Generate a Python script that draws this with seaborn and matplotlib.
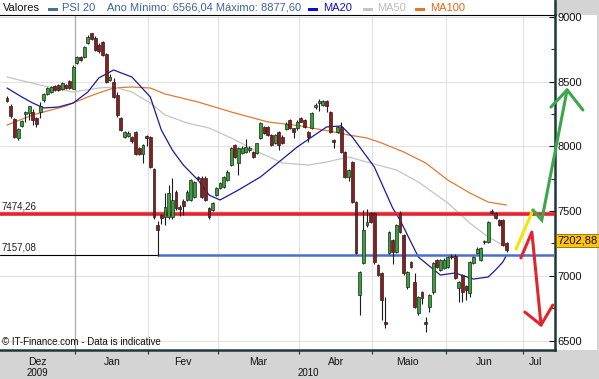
import matplotlib
matplotlib.use("Agg")
import matplotlib.pyplot as plt
from matplotlib.patches import Rectangle
from matplotlib.ticker import MultipleLocator, FixedLocator, NullFormatter, FixedFormatter
import seaborn as sns

# ---------------- data (PSI 20 daily candles, Dec 2009 - Jun 2010) ----------------
opens = [8376, 8312, 8212, 8065, 8160, 8250, 8258, 8266, 8220, 8266, 8359, 8405, 8420, 8467, 8475, 8444, 8475, 8506, 8444,
         8645, 8691, 8691, 8799, 8876, 8838, 8784, 8807, 8714, 8513, 8500, 8397, 8220, 8073, 8080, 8073, 8111, 7988, 7941, 8073,
         8073, 7825, 7393, 7470, 7454, 7454, 7454, 7648, 7531, 7578, 7586, 7586, 7610, 7756, 7756, 7756, 7524, 7508,
         7624, 7679, 7686, 7740, 7856, 8011, 7872, 7949, 7957, 7972, 7957, 7949, 8065, 8152, 8152, 8088, 8024, 8114, 8075,
         8132, 8204, 8140, 8140, 8217, 8204, 8114, 8140, 8305, 8338, 8320, 8353, 8268, 8050, 8114, 8152, 7959, 7766, 7880,
         7570, 6852, 7099, 7393, 7485, 7485, 7083, 7022, 6640, 7176, 7277, 7184, 7485, 7315, 6914, 7107, 6952, 6713, 6875,
         6640, 6759, 6875, 7122, 7045, 7060, 7068, 7150, 7153, 6906, 7006, 6921, 6867, 7099, 7176, 7122, 7258, 7261, 7500,
         7485, 7431, 7431, 7254]
highs = [8389, 8330, 8220, 8140, 8204, 8275, 8315, 8290, 8230, 8346, 8412, 8460, 8470, 8475, 8482, 8500, 8482, 8512, 8625,
         8700, 8700, 8775, 8860, 8878, 8850, 8795, 8815, 8720, 8560, 8530, 8420, 8230, 8120, 8115, 8080, 8120, 7995, 8020, 8085,
         8080, 7830, 7420, 7480, 7640, 7700, 7756, 7660, 7545, 7590, 7660, 7750, 7735, 7775, 7770, 7770, 7535, 7570,
         7690, 7725, 7770, 7815, 7995, 8020, 7995, 8000, 8060, 8000, 7965, 8030, 8190, 8160, 8160, 8095, 8095, 8120, 8085,
         8185, 8215, 8145, 8200, 8225, 8210, 8120, 8265, 8335, 8365, 8360, 8360, 8275, 8060, 8160, 8190, 7965, 7825, 7890,
         7580, 7040, 7510, 7520, 7495, 7495, 7090, 7030, 6840, 7345, 7285, 7400, 7500, 7325, 7035, 7115, 7020, 6845, 6880,
         6680, 6860, 7110, 7130, 7130, 7135, 7155, 7165, 7165, 6960, 7015, 6930, 7115, 7150, 7220, 7225, 7280, 7420, 7516,
         7495, 7440, 7440, 7260]
lows = [8343, 8220, 8065, 8050, 8150, 8190, 8204, 8165, 8150, 8220, 8345, 8400, 8410, 8430, 8425, 8435, 8445, 8440, 8440,
        8635, 8660, 8685, 8790, 8820, 8735, 8720, 8700, 8490, 8505, 8370, 8230, 8115, 8065, 8070, 8030, 7935, 7930, 7872, 8000,
        7830, 7440, 7157, 7400, 7393, 7440, 7440, 7510, 7460, 7470, 7575, 7575, 7600, 7740, 7600, 7575, 7440, 7500,
        7615, 7670, 7680, 7730, 7850, 7910, 7779, 7940, 7950, 7960, 7910, 7940, 8060, 8095, 8080, 8000, 8015, 7972, 8015,
        8125, 8135, 8065, 8130, 8185, 8145, 8036, 8135, 8290, 8275, 8315, 8265, 8105, 7990, 8105, 7950, 7755, 7730, 7560,
        7165, 6697, 7090, 7380, 7405, 7095, 6995, 6660, 6596, 7165, 7090, 7175, 7330, 7010, 6900, 7060, 6750, 6700, 6780,
        6566, 6720, 6860, 7060, 7040, 7050, 7060, 7130, 6975, 6800, 6800, 6810, 6840, 7090, 7170, 7115, 7245, 7255, 7475,
        7440, 7385, 7230, 7185]
closes = [8351, 8237, 8073, 8134, 8196, 8262, 8312, 8204, 8173, 8312, 8405, 8451, 8459, 8436, 8436, 8490, 8451, 8451, 8614,
          8691, 8668, 8768, 8845, 8830, 8745, 8737, 8706, 8498, 8537, 8380, 8243, 8127, 8111, 8104, 8042, 7941, 7941, 8011, 8065,
          7841, 7454, 7354, 7447, 7531, 7640, 7586, 7524, 7516, 7539, 7648, 7740, 7725, 7750, 7610, 7586, 7454, 7562,
          7679, 7717, 7764, 7802, 7990, 7918, 7988, 7988, 7996, 7990, 7918, 8026, 8181, 8101, 8088, 8011, 8088, 8011, 8024,
          8171, 8140, 8114, 8191, 8191, 8152, 8075, 8256, 8315, 8353, 8351, 8312, 8114, 8034, 8152, 7959, 7766, 7818, 7571,
          7176, 7029, 7354, 7416, 7416, 7107, 7006, 6813, 6630, 7339, 7184, 7393, 7338, 7022, 7029, 7068, 6759, 6836, 6829,
          6630, 6852, 7099, 7068, 7122, 7122, 7145, 7142, 6983, 6952, 6875, 6890, 7107, 7145, 7207, 7215, 7264, 7416, 7485,
          7447, 7393, 7238, 7203]

# moving averages (trading-day index, value)
ma20_idx = [0, 4, 7, 10, 14, 18, 22, 25, 29, 34, 39, 42, 45, 48, 52, 55, 58, 63, 69, 74, 79, 83, 87, 91, 94, 100,
            105, 107, 112, 118, 122, 127, 131, 133, 135, 136]
ma20_val = [8451, 8382, 8335, 8297, 8304, 8335, 8420, 8529, 8590, 8536, 8382, 8127, 7972, 7856, 7740, 7624, 7586,
            7663, 7764, 7879, 7995, 8073, 8150, 8158, 8073, 7841, 7524, 7431, 7145, 7006, 7022, 6975, 6991, 7045, 7107, 7161]
ma50_idx = [0, 9, 18, 25, 29, 34, 39, 43, 49, 55, 61, 69, 75, 82, 87, 93, 98, 106, 112, 120, 126, 131, 136]
ma50_val = [8536, 8474, 8420, 8451, 8459, 8420, 8335, 8243, 8181, 8142, 8065, 7949, 7872, 7856, 7879, 7918, 7879,
            7818, 7725, 7563, 7408, 7300, 7222]
ma100_idx = [0, 7, 16, 22, 25, 29, 34, 39, 43, 52, 61, 71, 80, 89, 93, 98, 102, 108, 114, 120, 126, 131, 136]
ma100_val = [8165, 8243, 8312, 8382, 8413, 8451, 8459, 8451, 8405, 8343, 8266, 8189, 8158, 8111, 8088, 8065, 8026,
             7957, 7872, 7740, 7640, 7570, 7547]

resistance = 7474.26
support = 7157.08
support_start = 41
last_close = 7202.88

# scenario arrows drawn on the chart (index, value)
yellow_x = [138.6, 143.2]
yellow_y = [7207, 7508]
green_x = [143.2, 145.6, 152.5]
green_y = [7508, 7431, 8436]
green_head_x = [148.1, 152.5, 156.8]
green_head_y = [8304, 8436, 8281]
red_x = [139.9, 142.9, 145.4]
red_y = [7138, 7338, 6620]
red_head_x = [141.0, 145.4, 148.6]
red_head_y = [6720, 6620, 6774]

month_bounds = [18.5, 38.5, 57.5, 79.5, 99.5, 119.5, 140.5]
month_label_pos = [8.3, 28.5, 48.0, 68.5, 89.5, 109.0, 130.0, 144.0]
month_labels = ["Dez", "Jan", "Fev", "Mar", "Abr", "Maio", "Jun", "Jul"]
year_labels = ["2009", "2010"]
year_label_pos = [8.3, 82.0]

# ---------------- style ----------------
sns.set_style("white")
plt.rcParams['font.family'] = ['Liberation Sans', 'DejaVu Sans']

W, H = 599, 379
fig = plt.figure(figsize=(W / 100, H / 100), dpi=100, facecolor='#d4d4d4')
ax = fig.add_axes([0, 1 - 350 / H, 555 / W, 335 / H])
ax.set_facecolor('white')

# white header + right label strip
fig.patches.append(Rectangle((0, 1 - 15 / H), 555 / W, 15 / H, transform=fig.transFigure,
                             facecolor='white', edgecolor='none', zorder=-5))
fig.patches.append(Rectangle((555 / W, 1 - 350 / H), 42 / W, 335 / H, transform=fig.transFigure,
                             facecolor='white', edgecolor='none', zorder=-5))

xmin, xmax = -1.92, 149.2
ymin, ymax = 6427, 9015
ax.set_xlim(xmin, xmax)
ax.set_ylim(ymin, ymax)

# grid
for v in range(6500, 9001, 500):
    ax.axhline(v, color='#e2e2e2', lw=0.8, zorder=0)
for i, b in enumerate(month_bounds):
    ax.axvline(b, color='#a9a9a9' if i == 0 else '#e2e2e2', lw=0.9 if i == 0 else 0.8, zorder=0)

# moving averages
sns.lineplot(x=ma100_idx, y=ma100_val, ax=ax, color='#e07a35', linewidth=0.9, estimator=None, sort=False, zorder=2)
sns.lineplot(x=ma50_idx, y=ma50_val, ax=ax, color='#c4c4c4', linewidth=0.9, estimator=None, sort=False, zorder=2)
sns.lineplot(x=ma20_idx, y=ma20_val, ax=ax, color='#1a1aa0', linewidth=0.9, estimator=None, sort=False, zorder=2)

# support / resistance
ax.axhline(resistance, color='#e5232d', lw=2.6, zorder=3)
ax.plot([xmin, support_start], [support, support], color='black', lw=0.8, zorder=3)
ax.plot([support_start, xmax], [support, support], color='#4a6fd0', lw=1.8, zorder=3)
ax.text(-1.6, resistance + 20, "7474,26", fontsize=7, va='bottom', ha='left', color='#202020', zorder=6)
ax.text(-1.6, support + 20, "7157,08", fontsize=7, va='bottom', ha='left', color='#202020', zorder=6)

# candles
idx = list(range(len(closes)))
ax.vlines(idx, lows, highs, color='#1a1a1a', lw=0.8, zorder=4)
bottoms = [min(o, c) for o, c in zip(opens, closes)]
heights = [max(abs(c - o), 12) for o, c in zip(opens, closes)]
colors = ['#33a532' if c >= o else '#8e1c1c' for o, c in zip(opens, closes)]
ax.bar(idx, heights, bottom=bottoms, width=0.78, color=colors, edgecolor='#222222', linewidth=0.5, zorder=5)

# scenario arrows
ax.plot(yellow_x, yellow_y, color='#f2e600', lw=2.2, clip_on=False, zorder=7, solid_capstyle='round')
ax.plot(green_x, green_y, color='#3aa84a', lw=2.2, clip_on=False, zorder=7, solid_joinstyle='miter')
ax.plot(green_head_x, green_head_y, color='#3aa84a', lw=2.2, clip_on=False, zorder=7)
ax.plot(red_x, red_y, color='#e0262a', lw=2.2, clip_on=False, zorder=7)
ax.plot(red_head_x, red_head_y, color='#e0262a', lw=2.2, clip_on=False, zorder=7)

# spines
ax.spines['left'].set_visible(False)
ax.spines['top'].set_color('black')
ax.spines['top'].set_linewidth(0.8)
ax.spines['right'].set_color('#1c3838')
ax.spines['right'].set_linewidth(1.8)
ax.spines['bottom'].set_color('#1c3838')
ax.spines['bottom'].set_linewidth(1.8)
fig.add_artist(plt.Line2D([555 / W, 555 / W], [1 - 15 / H, 1], transform=fig.transFigure,
                          color='#1c3838', lw=1.8))

# y axis on right
ax.yaxis.tick_right()
ax.yaxis.set_major_locator(FixedLocator(list(range(6500, 9001, 500))))
ax.yaxis.set_minor_locator(MultipleLocator(250))
ax.tick_params(axis='y', which='major', direction='in', length=4, width=0.8, pad=1.5, labelsize=8,
               colors='#111111', right=True, left=False)
ax.tick_params(axis='y', which='minor', direction='in', length=3, width=0.8, right=True, left=False)

# x axis months
ax.xaxis.set_major_locator(FixedLocator(month_bounds))
ax.xaxis.set_major_formatter(NullFormatter())
ax.xaxis.set_minor_locator(FixedLocator(month_label_pos))
ax.xaxis.set_minor_formatter(FixedFormatter(month_labels))
ax.tick_params(axis='x', which='major', direction='out', length=3, width=0.8, color='#1c3838', bottom=True)
ax.tick_params(axis='x', which='minor', length=0, pad=5, labelsize=7.5, labelcolor='#111111', bottom=True)
for lab, pos in zip(year_labels, year_label_pos):
    xf = (pos - xmin) / (xmax - xmin) * (555 / W)
    fig.text(xf, 1 - 368.5 / H, lab, fontsize=7, ha='center', va='top', color='#111111')

# last value box
ax.text(1.004, 7272, "7202,88", transform=ax.get_yaxis_transform(), fontsize=8, va='center', ha='left',
        color='#111111', zorder=8, clip_on=False,
        bbox=dict(boxstyle='square,pad=0.15', facecolor='#ffc20e', edgecolor='#8a6a00', linewidth=0.6))

# copyright
ax.text(0.004, 0.008, "\u00a9 IT-Finance.com - Data is indicative", transform=ax.transAxes,
        fontsize=7, va='bottom', ha='left', color='#111111', zorder=8)

# header
ty = 1 - 8 / H
fig.text(3 / W, ty, "Valores", fontsize=8, va='center', ha='left', color='#111111')
hdr_squares = [(48, '#4a6e9e'), (308, '#1010c8'), (363, '#c4c4c4'), (415, '#e8742a')]
for xs, col in hdr_squares:
    fig.patches.append(Rectangle((xs / W, 1 - 11 / H), 10 / W, 3.5 / H, transform=fig.transFigure,
                                 facecolor=col, edgecolor='none'))
fig.text(62 / W, ty, "PSI 20", fontsize=8, va='center', ha='left', color='#3c64a0')
fig.text(107 / W, ty, "Ano M\u00ednimo: 6566,04 M\u00e1ximo: 8877,60", fontsize=8, va='center', ha='left',
         color='#3c64a0')
fig.text(323 / W, ty, "MA20", fontsize=8, va='center', ha='left', color='#1010c0')
fig.text(377 / W, ty, "MA50", fontsize=8, va='center', ha='left', color='#bcbcbc')
fig.text(430 / W, ty, "MA100", fontsize=8, va='center', ha='left', color='#e06818')

fig.savefig("out.png", dpi=100, facecolor=fig.get_facecolor())
